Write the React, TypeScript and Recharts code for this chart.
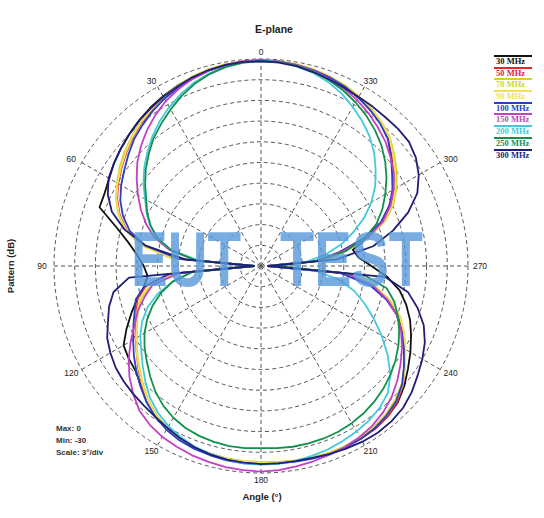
import React from 'react';
import { RadarChart, Radar, PolarGrid, PolarAngleAxis, PolarRadiusAxis } from 'recharts';

// measurement angles (deg, counter-clockwise from top)
const angles = [
  0, 5, 10, 15, 20, 25, 30, 35, 40, 45, 50, 55, 60, 65, 70, 75, 80, 85,
  90, 95, 100, 105, 110, 115, 120, 125, 130, 135, 140, 145, 150, 155, 160, 165, 170, 175,
  180, 185, 190, 195, 200, 205, 210, 215, 220, 225, 230, 235, 240, 245, 250, 255, 260, 265,
  270, 275, 280, 285, 290, 295, 300, 305, 310, 315, 320, 325, 330, 335, 340, 345, 350, 355,
];
const angleTicks = [0, 30, 60, 90, 120, 150, 180, 210, 240, 270, 300, 330];

const freqNames = ['30 MHz', '50 MHz', '70 MHz', '90 MHz', '100 MHz', '150 MHz', '200 MHz', '250 MHz', '300 MHz'];
const freqColors = ['#111111', '#e3262c', '#cfd424', '#f2df62', '#2b3fc4', '#c43fc4', '#45c9dc', '#12914a', '#1f1f78'];

// pattern in dB
const mhz30 = [
  -0.3, -0.3, -0.4, -0.6, -0.9, -1.2, -1.6, -2.0, -2.5, -3.0, -3.5, -4.0, -4.6, -5.0, -5.1, -8.3, -10.5, -12,
  -13, -13.5, -12.8, -11.4, -10.0, -8.5, -7.0, -6.6, -6.3, -5.4, -4.3, -3.4, -2.8, -2.3, -2.0, -1.8, -1.6, -1.5,
  -1.5, -1.4, -1.3, -1.2, -1.1, -1.1, -1.1, -1.2, -1.5, -2.0, -2.9, -4.0, -5.0, -6.0, -7.0, -8.2, -9.6, -11.6,
  -14, -15.8, -16.5, -14, -11.5, -9.5, -7.3, -6.6, -5.3, -3.9, -3.0, -2.4, -1.8, -1.3, -0.9, -0.6, -0.4, -0.3,
];
const mhz50 = [
  -0.3, -0.3, -0.4, -0.6, -0.9, -1.3, -1.8, -2.4, -3.0, -3.7, -4.5, -5.3, -6.1, -7.0, -8.2, -9.8, -12.5, -17,
  -29, -17, -13, -11.5, -10.8, -10, -9, -8, -6.8, -5.6, -4.3, -3.4, -2.8, -2.3, -2.0, -1.8, -1.6, -1.5,
  -1.5, -1.4, -1.3, -1.2, -1.1, -1.1, -1.1, -1.2, -1.5, -2.1, -3.1, -4.6, -6.0, -7.4, -8.8, -11.0, -13.8, -18,
  -29, -22, -18.5, -14.5, -11.3, -9.3, -7.8, -6.7, -5.3, -3.9, -3.0, -2.4, -1.8, -1.3, -0.9, -0.6, -0.4, -0.3,
];
const mhz70 = [
  -0.2, -0.2, -0.3, -0.5, -0.8, -1.2, -1.7, -2.2, -2.8, -3.5, -4.2, -5.0, -5.9, -6.8, -8.0, -9.6, -12.2, -17,
  -29, -18, -14, -12, -11, -10.2, -9.2, -8.1, -7.0, -5.8, -4.6, -3.6, -2.9, -2.4, -2.0, -1.8, -1.7, -1.6,
  -1.6, -1.5, -1.4, -1.3, -1.2, -1.2, -1.3, -1.5, -1.9, -2.5, -3.4, -4.6, -5.9, -7.2, -8.6, -10.6, -13.2, -17.5,
  -29, -21, -17.5, -13.8, -10.8, -8.8, -7.3, -6.0, -4.8, -3.6, -2.8, -2.1, -1.6, -1.1, -0.8, -0.5, -0.3, -0.2,
];
const mhz90 = [
  -0.3, -0.3, -0.4, -0.6, -0.9, -1.3, -1.8, -2.3, -2.9, -3.6, -4.4, -5.2, -6.0, -6.9, -8.1, -9.7, -12.4, -17,
  -29, -17.5, -13.5, -11.8, -10.9, -10.1, -9.1, -8.0, -6.9, -5.7, -4.5, -3.5, -2.8, -2.3, -2.0, -1.8, -1.6, -1.5,
  -1.5, -1.4, -1.3, -1.2, -1.1, -1.1, -1.2, -1.4, -1.7, -2.3, -3.2, -4.5, -5.8, -7.1, -8.5, -10.5, -13.4, -17.5,
  -29, -21.5, -18, -14, -11.0, -9.0, -7.5, -6.3, -5.0, -3.7, -2.9, -2.2, -1.7, -1.2, -0.8, -0.5, -0.3, -0.3,
];
const mhz100 = [
  -0.3, -0.3, -0.5, -0.7, -1.1, -1.5, -2.0, -2.6, -3.3, -4.0, -4.9, -5.8, -6.6, -7.5, -8.7, -10.3, -13, -18,
  -29, -16.5, -12.8, -11.2, -10.5, -9.6, -8.6, -7.5, -6.4, -5.3, -4.2, -3.3, -2.6, -2.1, -1.8, -1.6, -1.4, -1.3,
  -1.3, -1.3, -1.2, -1.1, -1.0, -1.0, -1.1, -1.3, -1.7, -2.3, -3.3, -4.7, -6.1, -7.5, -9.0, -11.2, -14, -18.5,
  -29, -22, -18.5, -14.6, -11.5, -9.5, -8.0, -6.8, -5.4, -4.0, -3.1, -2.4, -1.8, -1.3, -0.9, -0.6, -0.4, -0.3,
];
const mhz150 = [
  -0.1, -0.2, -0.4, -0.7, -1.1, -1.7, -2.4, -3.3, -4.3, -5.4, -6.6, -8.0, -9.4, -10.8, -12.3, -14, -16.5, -20.5,
  -29, -18, -14, -12.5, -11, -9.8, -8.2, -6.6, -5.1, -3.8, -2.6, -1.9, -1.4, -1.1, -0.8, -0.6, -0.4, -0.3,
  -0.2, -0.3, -0.5, -0.7, -0.9, -1.1, -1.4, -1.8, -2.4, -3.2, -4.2, -5.3, -6.4, -7.6, -9.0, -11, -13.5, -17.5,
  -29, -22, -18, -14, -11.2, -9.3, -7.8, -6.5, -5.5, -4.5, -3.7, -2.9, -2.2, -1.6, -1.1, -0.7, -0.4, -0.2,
];
const mhz200 = [
  -0.3, -0.4, -0.7, -1.1, -1.7, -2.5, -3.4, -4.4, -5.5, -6.7, -7.9, -9.2, -10.6, -11.7, -12.9, -14.4, -16.8, -21,
  -29, -20, -17, -14.5, -12.5, -11, -9.8, -8.8, -7.6, -6.3, -5.0, -4.0, -3.2, -2.6, -2.1, -1.8, -1.5, -1.3,
  -1.2, -1.2, -1.3, -1.5, -1.7, -2.0, -2.3, -2.7, -3.2, -4.0, -5.5, -7.6, -9.8, -12.0, -14.0, -16.0, -18.5, -22,
  -29, -23.5, -20.5, -18, -15.8, -13.5, -11.5, -9.8, -8.3, -6.8, -5.5, -4.4, -3.4, -2.4, -1.6, -1.0, -0.6, -0.3,
];
const mhz250 = [
  -0.3, -0.4, -0.7, -1.2, -1.9, -2.8, -3.8, -4.8, -5.8, -7.0, -8.2, -9.5, -10.8, -11.8, -13.0, -14.5, -16.8, -20.5,
  -29, -20, -17, -15, -13.3, -11.8, -10.5, -9.4, -8.4, -7.3, -6.2, -5.3, -4.6, -4.1, -3.8, -3.6, -3.5, -3.5,
  -3.6, -3.5, -3.4, -3.4, -3.4, -3.5, -3.7, -4.0, -4.4, -4.9, -5.5, -6.2, -7.0, -7.9, -8.9, -10.0, -11.5, -15,
  -28, -22, -17.5, -14.5, -12.2, -10.6, -9.2, -7.8, -6.5, -5.3, -4.3, -3.4, -2.6, -1.9, -1.3, -0.8, -0.5, -0.3,
];
const mhz300 = [
  -0.3, -0.3, -0.4, -0.6, -0.9, -1.3, -1.7, -2.1, -2.5, -3.0, -3.5, -4.0, -4.5, -5.5, -7.0, -9.5, -13, -19,
  -29, -10.8, -8.3, -7.2, -6.4, -5.4, -4.8, -4.3, -4.0, -3.8, -3.6, -3.3, -2.9, -2.4, -2.0, -1.7, -1.5, -1.4,
  -1.3, -1.3, -1.3, -1.2, -1.0, -0.8, -0.6, -0.5, -0.6, -0.9, -1.5, -2.3, -3.0, -3.8, -4.9, -6.5, -8.4, -12,
  -29, -19, -13.5, -10.2, -7.3, -5.0, -3.6, -2.6, -2.0, -1.9, -1.9, -1.8, -1.7, -1.5, -1.2, -0.9, -0.6, -0.4,
];

const seriesValues = [mhz30, mhz50, mhz70, mhz90, mhz100, mhz150, mhz200, mhz250, mhz300];
const ringDb = [-27, -24, -21, -18, -15, -12, -9, -6, -3, 0];
const spokeAngles = [0, 30, 60, 90, 120, 150, 180, 210, 240, 270, 300, 330];

const CX = 261;
const CY = 266;
const R = 207;

const rows = angles.map((a, i) => {
  const row: Record<string, number> = { angle: a };
  seriesValues.forEach((vals, k) => {
    row['s' + k] = vals[i];
  });
  return row;
});

const ringRadii = ringDb.map((d) => ((d + 30) / 30) * R);

// labels sit a little closer to the ring at top/bottom than at the sides
const AngleTick = (props: any) => {
  const { x, y, payload } = props;
  const ly = CY + (y - CY) * 0.975;
  return (
    <text x={x} y={ly} textAnchor="middle" dominantBaseline="central" fontSize={8.5} fill="#222">
      {payload.value}
    </text>
  );
};

export default function App() {
  return (
    <div
      style={{
        position: 'absolute',
        left: 0,
        top: 0,
        width: 544,
        height: 518,
        background: '#fff',
        fontFamily: '"Liberation Sans", Arial, sans-serif',
      }}
    >
      <RadarChart
        width={544}
        height={518}
        cx={CX}
        cy={CY}
        outerRadius={R}
        startAngle={90}
        endAngle={450}
        data={rows}
        margin={{ top: 0, right: 0, bottom: 0, left: 0 }}
      >
        <PolarGrid
          gridType="circle"
          polarAngles={spokeAngles}
          polarRadius={ringRadii}
          stroke="#555"
          strokeDasharray="4 3"
        />
        <PolarAngleAxis
          dataKey="angle"
          type="number"
          domain={[0, 360]}
          ticks={angleTicks}
          tick={AngleTick}
          tickLine={false}
          axisLine={false}
          tickSize={12}
        />
        <PolarRadiusAxis angle={75} domain={[-30, 0]} type="number" tick={false} tickLine={false} axisLine={false} />
        {freqNames.map((name, k) => (
          <Radar
            key={name}
            name={name}
            dataKey={'s' + k}
            stroke={freqColors[k]}
            strokeWidth={1.8}
            strokeLinejoin="round"
            fill="none"
            fillOpacity={0}
            dot={false}
            isAnimationActive={false}
          />
        ))}
      </RadarChart>

      <svg width={544} height={518} style={{ position: 'absolute', left: 0, top: 0, pointerEvents: 'none' }}>
        <text x={274} y={33} textAnchor="middle" fontSize={10.5} fontWeight="bold" fill="#222">E-plane</text>
        <text
          x={14}
          y={266}
          textAnchor="middle"
          fontSize={9.5}
          fontWeight="bold"
          fill="#222"
          transform="rotate(-90 14 266)"
        >
          Pattern (dB)
        </text>
        <text x={262} y={500} textAnchor="middle" fontSize={9.5} fontWeight="bold" fill="#222">Angle (°)</text>
        <text x={56} y={431} fontSize={8} fontWeight="bold" fill="#333">Max: 0</text>
        <text x={56} y={443} fontSize={8} fontWeight="bold" fill="#333">Min: -30</text>
        <text x={56} y={455} fontSize={8} fontWeight="bold" fill="#333">Scale: 3°/div</text>
        <g fill="#5799da" fillOpacity={0.8} fontWeight="bold" fontSize={78}>
          <text x={131} y={286} textLength={110} lengthAdjust="spacingAndGlyphs">EUT</text>
          <text x={280} y={286} textLength={143} lengthAdjust="spacingAndGlyphs">TEST</text>
        </g>
      </svg>

      <div style={{ position: 'absolute', left: 494, top: 55, width: 42 }}>
        {freqNames.map((name, k) => (
          <div key={name} style={{ height: 11.7, position: 'relative' }}>
            <div style={{ height: 2, background: freqColors[k], width: 38 }} />
            <div
              style={{
                fontFamily: '"Liberation Serif", serif',
                fontWeight: 'bold',
                fontSize: 8.5,
                lineHeight: '9px',
                color: freqColors[k],
                paddingLeft: 2,
              }}
            >
              {name}
            </div>
          </div>
        ))}
      </div>
    </div>
  );
}
